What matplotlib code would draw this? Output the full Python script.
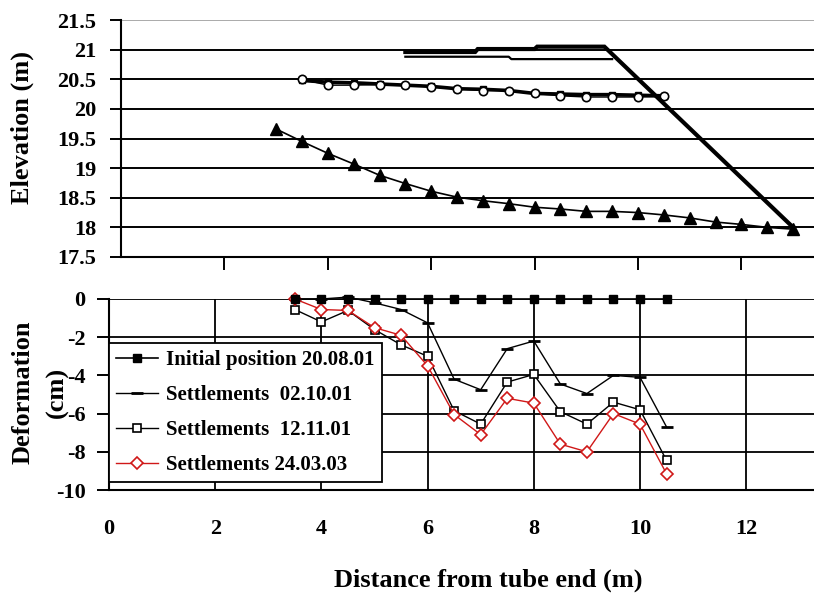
import matplotlib
matplotlib.use("Agg")
import matplotlib.pyplot as plt

plt.rcParams['font.family'] = ['Liberation Serif', 'DejaVu Serif']
plt.rcParams['font.weight'] = 'bold'
plt.rcParams['axes.unicode_minus'] = False

# ---------------- data: top panel (elevation, m) ----------------
tri_x = [3.0, 3.5, 4.0, 4.5, 5.0, 5.5, 6.0, 6.5, 7.0, 7.5, 8.0, 8.5, 9.0, 9.5,
         10.0, 10.5, 11.0, 11.5, 12.0, 12.5, 13.0]
tri_y = [19.66, 19.45, 19.25, 19.07, 18.88, 18.74, 18.61, 18.51, 18.45, 18.40,
         18.34, 18.31, 18.27, 18.27, 18.25, 18.21, 18.16, 18.09, 18.05, 18.00, 17.97]

mid_x = [3.5, 4.0, 4.5, 5.0, 5.5, 6.0, 6.5, 7.0, 7.5, 8.0, 8.5, 9.0, 9.5, 10.0, 10.5]
circ_y = [20.50, 20.40, 20.40, 20.41, 20.40, 20.37, 20.34, 20.31, 20.31, 20.26,
          20.22, 20.20, 20.20, 20.20, 20.21]
sq_y = [20.48, 20.45, 20.44, 20.42, 20.40, 20.38, 20.34, 20.33, 20.31, 20.26,
        20.25, 20.24, 20.24, 20.23, 20.22]

emb_x = [5.5, 6.85, 6.9, 8.0, 8.05, 9.35, 13.0]
emb_y = [20.96, 20.96, 21.01, 21.01, 21.05, 21.05, 18.0]
low_x = [5.5, 7.5, 7.55, 9.5]
low_y = [20.88, 20.88, 20.84, 20.84]

elev_ticks = [17.5, 18, 18.5, 19, 19.5, 20, 20.5, 21, 21.5]
elev_labels = ['17.5', '18', '18.5', '19', '19.5', '20', '20.5', '21', '21.5']

# ---------------- data: bottom panel (deformation, cm) ----------------
dist = [3.5, 4.0, 4.5, 5.0, 5.5, 6.0, 6.5, 7.0, 7.5, 8.0, 8.5, 9.0, 9.5, 10.0, 10.5]
initial = [0] * 15
s_021001 = [0, 0, 0.1, -0.2, -0.55, -1.25, -4.2, -4.75, -2.6, -2.2, -4.45, -4.95,
            -4.0, -4.1, -6.7]
s_121101 = [-0.55, -1.2, -0.6, -1.6, -2.4, -3.0, -5.85, -6.55, -4.35, -3.95, -5.9,
            -6.55, -5.4, -5.8, -8.45]
s_240303 = [0, -0.55, -0.6, -1.5, -1.9, -3.5, -6.05, -7.1, -5.2, -5.45, -7.6, -8.0,
            -6.0, -6.55, -9.15]

def_ticks = [-10, -8, -6, -4, -2, 0]
def_labels = ['-10', '-8', '-6', '-4', '-2', '0']
x_ticks = [0, 2, 4, 6, 8, 10, 12]
x_labels = ['0', '2', '4', '6', '8', '10', '12']
legend_labels = ['Initial position 20.08.01', 'Settlements  02.10.01',
                 'Settlements  12.11.01', 'Settlements 24.03.03']

W, H = 814, 597
fig = plt.figure(figsize=(W / 100, H / 100), dpi=100)

# ---------------- top axes ----------------
ax1 = fig.add_axes([121 / W, 1 - 257 / H, (W - 121) / W, 237 / H])
ax1.plot(tri_x, tri_y, color='black', lw=1.2, marker='^', ms=8,
         markerfacecolor='black', markeredgecolor='black', clip_on=False)
ax1.plot(mid_x, sq_y, color='black', lw=2.6, marker='s', ms=4,
         markerfacecolor='black', markeredgecolor='black')
ax1.plot(mid_x, circ_y, color='black', lw=1.0, marker='o', ms=6,
         markerfacecolor='white', markeredgecolor='black', markeredgewidth=1.2)
ax1.plot(emb_x, emb_y, color='black', lw=3.0, solid_joinstyle='miter')
ax1.plot(low_x, low_y, color='black', lw=1.6)

ax1.set_xlim(0, (W - 121) / 51.7)
ax1.set_ylim(17.5, 21.5)
ax1.set_yticks(elev_ticks)
ax1.set_yticklabels(elev_labels)
ax1.set_xticks([2, 4, 6, 8, 10, 12])
ax1.yaxis.grid(True, color='black', lw=1.4)
ax1.get_ygridlines()[-1].set_color('#aaaaaa')
ax1.set_axisbelow(True)
for s in ['top', 'right']:
    ax1.spines[s].set_visible(False)
for s in ['left', 'bottom']:
    ax1.spines[s].set_linewidth(1.5)
ax1.tick_params(axis='x', direction='out', length=9, width=1.4, labelbottom=False)
ax1.tick_params(axis='y', direction='out', length=8, width=1.4, labelsize=16, pad=10)
for t in ax1.get_yticklabels():
    t.set_fontweight('bold')

# ---------------- bottom axes ----------------
ax2 = fig.add_axes([109 / W, 1 - 490 / H, (W - 109) / W, 191 / H])
l1, = ax2.plot(dist, initial, color='black', lw=1.2, marker='s', ms=6,
               markerfacecolor='black', markeredgecolor='black', clip_on=False)
l2, = ax2.plot(dist, s_021001, color='black', lw=1.0, marker='_', ms=9,
               markeredgewidth=2, clip_on=False)
l3, = ax2.plot(dist, s_121101, color='black', lw=1.0, marker='s', ms=6,
               markerfacecolor='white', markeredgecolor='black', markeredgewidth=1.2,
               clip_on=False)
l4, = ax2.plot(dist, s_240303, color='#d01818', lw=1.0, marker='D', ms=6,
               markerfacecolor='white', markeredgecolor='#d01818', markeredgewidth=1.2,
               clip_on=False)
l1.set_zorder(5)

ax2.set_xlim(0, (W - 109) / 53.1)
ax2.set_ylim(-10, 0)
ax2.set_yticks(def_ticks)
ax2.set_yticklabels(def_labels)
ax2.set_xticks(x_ticks)
ax2.set_xticklabels(x_labels)
ax2.grid(True, color='black', lw=1.3)
ax2.set_axisbelow(True)
for s in ['top', 'right']:
    ax2.spines[s].set_visible(False)
for s in ['left', 'bottom']:
    ax2.spines[s].set_linewidth(1.5)
ax2.tick_params(axis='y', direction='out', length=9, width=1.4, labelsize=16, pad=8)
ax2.tick_params(axis='x', length=0, labelsize=16, pad=21)
for t in ax2.get_yticklabels() + ax2.get_xticklabels():
    t.set_fontweight('bold')

leg = ax2.legend([l1, l2, l3, l4], legend_labels, loc='lower left',
                 bbox_to_anchor=(0.0, 0.04), borderaxespad=0, fancybox=False,
                 edgecolor='black', framealpha=1, prop={'size': 15, 'weight': 'bold'},
                 handlelength=2.0, handletextpad=0.4, labelspacing=0.72,
                 borderpad=0.35)
leg.get_frame().set_linewidth(1.3)
leg.set_zorder(10)

# ---------------- axis labels ----------------
fig.text(22 / W, 1 - 128 / H, 'Elevation (m)', rotation=90, ha='center', va='center',
         fontsize=19, fontweight='bold')
fig.text(40 / W, 1 - 392 / H, 'Deformation\n(cm)', rotation=90, ha='center',
         va='center', fontsize=19, fontweight='bold', linespacing=1.6,
         multialignment='center')
fig.text(488 / W, 1 - 580 / H, 'Distance from tube end (m)', ha='center', va='center',
         fontsize=19, fontweight='bold')

fig.savefig('out.png', dpi=100)
